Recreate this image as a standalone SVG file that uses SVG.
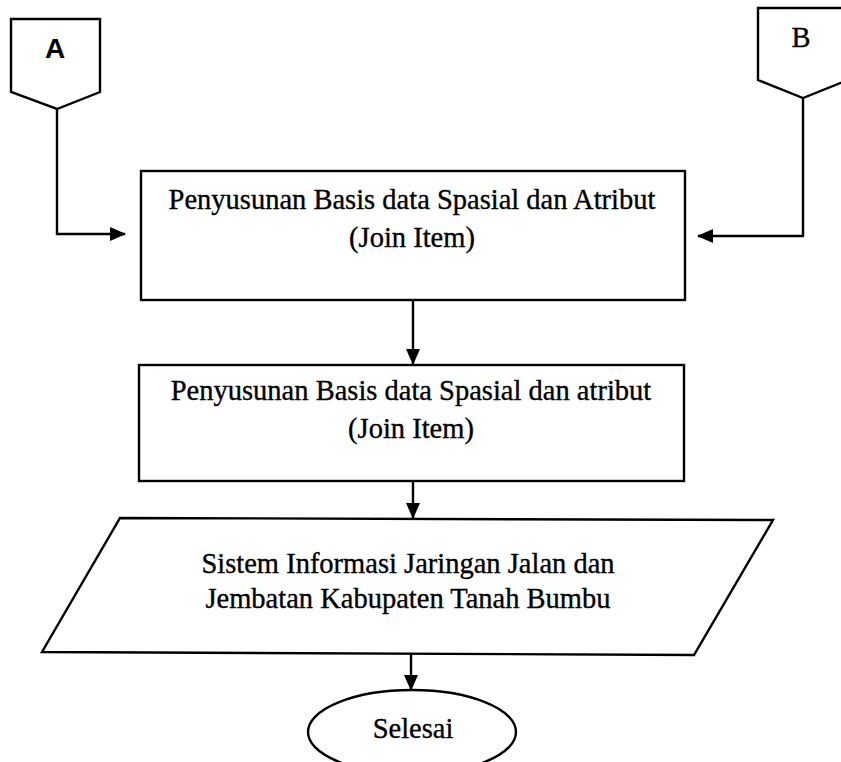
<svg xmlns="http://www.w3.org/2000/svg" width="841" height="762" viewBox="0 0 841 762">
<defs>
<marker id="ah" markerWidth="16" markerHeight="14" refX="15" refY="7" orient="auto" markerUnits="userSpaceOnUse">
<path d="M0,0 L16,7 L0,14 Z" fill="#000"/>
</marker>
<style>
.s{fill:#fff;stroke:#000;stroke-width:2.4}
.t{font-family:"Liberation Serif","Times New Roman",serif;font-size:28.5px;fill:#000;stroke:#000;stroke-width:0.35;text-anchor:middle}
.a{font-family:"Liberation Sans",Arial,sans-serif;font-size:28px;font-weight:bold;fill:#000;text-anchor:middle}
.c{fill:none;stroke:#000;stroke-width:2.4}
</style>
</defs>
<rect width="841" height="762" fill="#fff"/>
<g id="connectors">
<polyline class="c" points="57,109 57,234 125,234" marker-end="url(#ah)"/>
<polyline class="c" points="803,98 803,236 698,236" marker-end="url(#ah)"/>
<line class="c" x1="413" y1="300" x2="413" y2="364" marker-end="url(#ah)"/>
<line class="c" x1="413" y1="481" x2="413" y2="518" marker-end="url(#ah)"/>
<line class="c" x1="411" y1="653" x2="411" y2="690" marker-end="url(#ah)"/>
</g>
<g id="nodeA">
<polygon class="s" points="11,19 100,19 100,92 57,109 11,92"/>
<text class="a" x="55" y="58">A</text>
</g>
<g id="nodeB">
<polygon class="s" points="758,8 848,8 848,80 803,98 758,80"/>
<text class="t" x="801" y="47">B</text>
</g>
<g id="box1">
<rect class="s" x="141" y="171" width="544" height="129"/>
<text class="t" x="412" y="209">Penyusunan Basis data Spasial dan Atribut</text>
<text class="t" x="412" y="247">(Join Item)</text>
</g>
<g id="box2">
<rect class="s" x="139" y="365" width="545" height="116"/>
<text class="t" x="411" y="400">Penyusunan Basis data Spasial dan atribut</text>
<text class="t" x="411" y="438">(Join Item)</text>
</g>
<g id="output">
<polygon class="s" points="120,518 773,520 694,655 42,652"/>
<text class="t" x="408" y="573">Sistem Informasi Jaringan Jalan dan</text>
<text class="t" x="408" y="608">Jembatan Kabupaten Tanah Bumbu</text>
</g>
<g id="selesai">
<ellipse class="s" cx="412" cy="732" rx="104" ry="42"/>
<text class="t" x="413" y="738">Selesai</text>
</g>
</svg>
